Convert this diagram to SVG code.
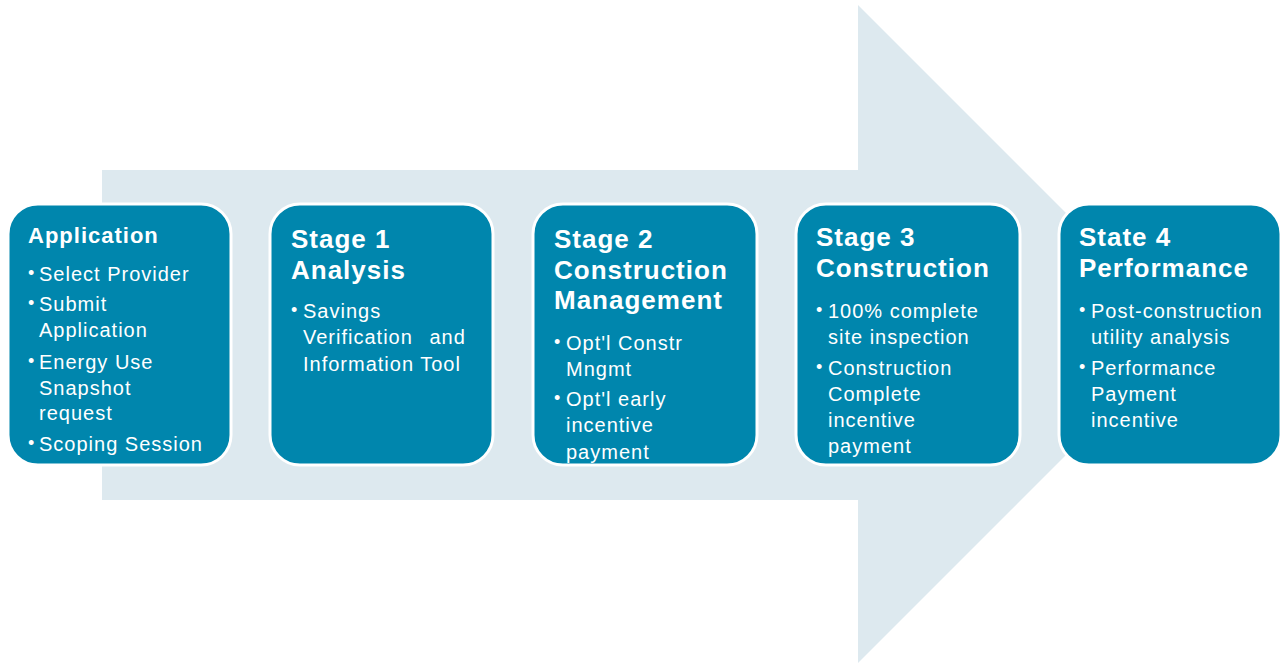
<svg xmlns="http://www.w3.org/2000/svg" width="1284" height="664" viewBox="0 0 1284 664">
<style>
.bg{fill:#ffffff}
.arrow{fill:#dde9ef}
.box{fill:#0086ad;stroke:#ffffff;stroke-width:3}
.h{font-family:"Liberation Sans",Arial,sans-serif;font-weight:bold;fill:#ffffff;letter-spacing:1px}
.h1{font-size:22px}
.h2{font-size:26px}
.t{font-family:"Liberation Sans",Arial,sans-serif;font-size:20px;fill:#ffffff;letter-spacing:1px}
.b{font-family:"Liberation Sans",Arial,sans-serif;font-size:18px;fill:#ffffff}
</style>
<defs>
<clipPath id="clip3"><rect x="533" y="204" width="224" height="261" rx="30"/></clipPath>
</defs>
<rect class="bg" x="0" y="0" width="1284" height="664"/>
<g id="arrow">
<polygon class="arrow" points="102,170 858,170 858,5 1187,334 858,663 858,500 102,500"/>
</g>
<g id="connectors"></g>
<g id="node-application">
<rect class="box" x="8" y="204" width="223" height="261" rx="30"/>
<text class="h h1" x="28" y="243">Application</text>
<text class="b" x="28" y="279">•</text>
<text class="t" x="39" y="281">Select Provider</text>
<text class="b" x="28" y="309">•</text>
<text class="t" x="39" y="311">Submit</text>
<text class="t" x="39" y="337">Application</text>
<text class="b" x="28" y="367">•</text>
<text class="t" x="39" y="369">Energy Use</text>
<text class="t" x="39" y="395">Snapshot</text>
<text class="t" x="39" y="420">request</text>
<text class="b" x="28" y="449">•</text>
<text class="t" x="39" y="451">Scoping Session</text>
</g>
<g id="node-stage1">
<rect class="box" x="270" y="204" width="223" height="261" rx="30"/>
<text class="h h2" x="291" y="248">Stage 1</text>
<text class="h h2" x="291" y="279">Analysis</text>
<text class="b" x="291" y="316">•</text>
<text class="t" x="303" y="318">Savings</text>
<text class="t" x="303" y="344" word-spacing="10">Verification and</text>
<text class="t" x="303" y="371">Information Tool</text>
</g>
<g id="node-stage2">
<rect class="box" x="533" y="204" width="224" height="261" rx="30"/>
<text class="h h2" x="554" y="248">Stage 2</text>
<text class="h h2" x="554" y="279">Construction</text>
<text class="h h2" x="554" y="309">Management</text>
<g clip-path="url(#clip3)">
<text class="b" x="554" y="348">•</text>
<text class="t" x="566" y="350">Opt'l Constr</text>
<text class="t" x="566" y="376">Mngmt</text>
<text class="b" x="554" y="404">•</text>
<text class="t" x="566" y="406">Opt'l early</text>
<text class="t" x="566" y="432">incentive</text>
<text class="t" x="566" y="459">payment</text>
</g>
</g>
<g id="node-stage3">
<rect class="box" x="796" y="204" width="224" height="261" rx="30"/>
<text class="h h2" x="816" y="246">Stage 3</text>
<text class="h h2" x="816" y="277">Construction</text>
<text class="b" x="816" y="316">•</text>
<text class="t" x="828" y="318">100% complete</text>
<text class="t" x="828" y="344">site inspection</text>
<text class="b" x="816" y="373">•</text>
<text class="t" x="828" y="375">Construction</text>
<text class="t" x="828" y="401">Complete</text>
<text class="t" x="828" y="427">incentive</text>
<text class="t" x="828" y="453">payment</text>
</g>
<g id="node-stage4">
<rect class="box" x="1059" y="204" width="222" height="261" rx="30"/>
<text class="h h2" x="1079" y="246">State 4</text>
<text class="h h2" x="1079" y="277">Performance</text>
<text class="b" x="1079" y="316">•</text>
<text class="t" x="1091" y="318" letter-spacing="0.7">Post-construction</text>
<text class="t" x="1091" y="344">utility analysis</text>
<text class="b" x="1079" y="373">•</text>
<text class="t" x="1091" y="375">Performance</text>
<text class="t" x="1091" y="401">Payment</text>
<text class="t" x="1091" y="427">incentive</text>
</g>
</svg>
